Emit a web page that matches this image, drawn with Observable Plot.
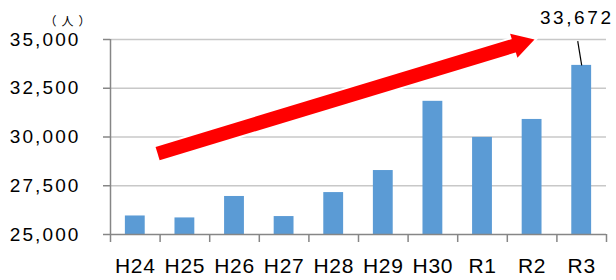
<!DOCTYPE html>
<html><head><meta charset="utf-8">
<script src="https://cdn.jsdelivr.net/npm/d3@7"></script>
<script src="https://cdn.jsdelivr.net/npm/@observablehq/plot@0.6"></script>
<style>
body{margin:0;background:#fff;}
#chart{width:616px;height:280px;}
</style></head><body><div id="chart"></div>
<script>
// ---- data ----
const categories = ["H24","H25","H26","H27","H28","H29","H30","R1","R2","R3"];
const values = [25950, 25850, 26950, 25920, 27150, 28280, 31830, 29980, 30900, 33672];
const yTicks = [25000, 27500, 30000, 32500, 35000];
const unitLabel = "（人）";
// annotation positions in data units (x: category index, y: people)
const arrowFrom = [0.95, 29150];
const arrowTo = [8.19, 34723];
const arrowHead = [8.27, 34785];
const calloutTop = [9.42, 34913];
const calloutLabel = [9.40, 36118];

const data = categories.map((c, i) => ({c, i, v: values[i]}));
const last = data[data.length - 1];
const fmt = d3.format(",");
const font = "'Liberation Sans', Arial, sans-serif";
const red = "#ff0000";

const plot = Plot.plot({
  width: 616, height: 280,
  marginLeft: 110, marginRight: 10, marginTop: 39, marginBottom: 46,
  style: {fontFamily: font, background: "#fff", overflow: "visible", color: "#000"},
  x: {domain: [0, 10]},
  y: {domain: [25000, 35000]},
  marks: [
    Plot.ruleY(yTicks.slice(1), {stroke: "#c8c8c8", strokeWidth: 1.5}),
    Plot.rectY(data, {x1: d => d.i + 0.3, x2: d => d.i + 0.7, y1: 25000, y2: "v", fill: "#5b9bd5"}),
    Plot.ruleX([0], {stroke: "#868686", strokeWidth: 1.5}),
    Plot.ruleY([25000], {stroke: "#868686", strokeWidth: 1.5}),
    Plot.axisY({ticks: yTicks, tickFormat: fmt, tickSize: 7, tickPadding: 23, stroke: "#868686",
      strokeWidth: 1.5, fontSize: 19, label: null}),
    Plot.axisX({ticks: d3.range(11), tickFormat: () => "", tickSize: 8, stroke: "#868686",
      strokeWidth: 1.5, label: null}),
    Plot.text(data, {x: d => d.i + 0.5, y: 25000, text: "c", dy: 32, fontSize: 21, fill: "#000"}),
    // trend arrow: white halo then red
    Plot.link([0], {x1: arrowFrom[0], y1: arrowFrom[1], x2: arrowTo[0], y2: arrowTo[1],
      stroke: "#fff", strokeWidth: 18, strokeLinecap: "butt"}),
    Plot.dot([0], {x: arrowHead[0], y: arrowHead[1], symbol: "triangle", r: 9.3, rotate: 73,
      fill: "#fff", stroke: "#fff", strokeWidth: 4}),
    Plot.link([0], {x1: arrowFrom[0], y1: arrowFrom[1], x2: arrowTo[0], y2: arrowTo[1],
      stroke: red, strokeWidth: 14, strokeLinecap: "butt"}),
    Plot.dot([0], {x: arrowHead[0], y: arrowHead[1], symbol: "triangle", r: 9.3, rotate: 73,
      fill: red, stroke: "none"}),
    // callout for last value
    Plot.link([last], {x1: calloutTop[0], y1: calloutTop[1], x2: d => d.i + 0.5, y2: "v",
      stroke: "#000", strokeWidth: 1.2}),
    Plot.text([last], {x: calloutLabel[0], y: calloutLabel[1], text: d => fmt(d.v), fontSize: 19,
      fill: "#000"}),
    Plot.text([unitLabel], {frameAnchor: "top-left", dx: -66, dy: -22, fontSize: 12,
      fontFamily: "'Noto Sans CJK JP'", fill: "#000"})
  ]
});
// letter spacing to match the reference's wide numerals
const sel = d3.select(plot);
sel.selectAll('g[aria-label="y-axis tick label"] text').style("letter-spacing", "2.1px");
const textGroups = sel.selectAll('g[aria-label="text"]').nodes();
if (textGroups[0]) d3.select(textGroups[0]).selectAll("text").style("letter-spacing", "0.7px");
if (textGroups[1]) d3.select(textGroups[1]).selectAll("text").style("letter-spacing", "2.6px");
if (textGroups[2]) d3.select(textGroups[2]).selectAll("text").style("letter-spacing", "5px");
document.getElementById("chart").append(plot);
</script>
</body></html>
